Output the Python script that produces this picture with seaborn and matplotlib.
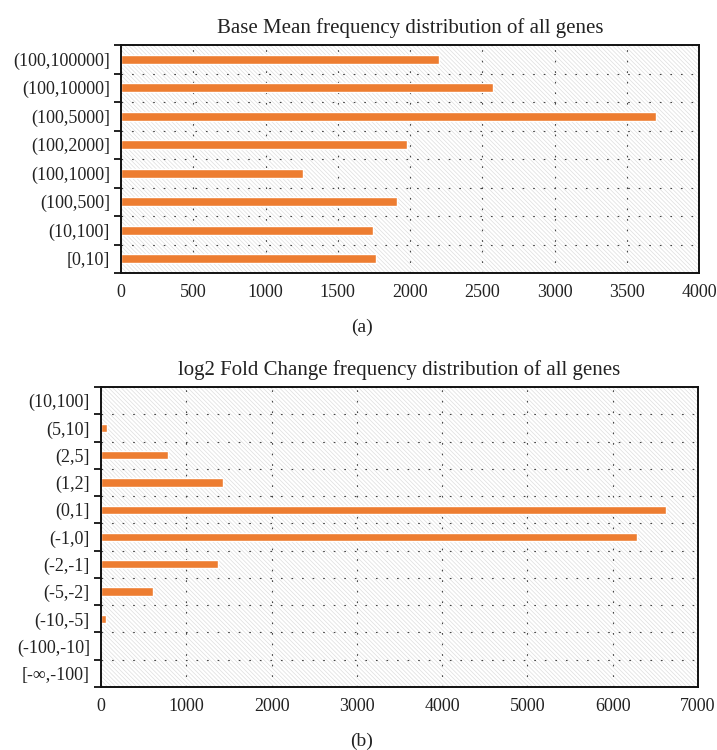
import matplotlib
matplotlib.use("Agg")
import matplotlib.pyplot as plt
from matplotlib.patches import Rectangle
from matplotlib.ticker import FixedLocator
import seaborn as sns
import pandas as pd

# ---- data ----
base_cats = ["(100,100000]", "(100,10000]", "(100,5000]", "(100,2000]",
             "(100,1000]", "(100,500]", "(10,100]", "[0,10]"]
base_vals = [2200, 2575, 3700, 1980, 1260, 1910, 1745, 1765]
base_title = "Base Mean frequency distribution of all genes"
base_xticks = [0, 500, 1000, 1500, 2000, 2500, 3000, 3500, 4000]

fc_cats = ["(10,100]", "(5,10]", "(2,5]", "(1,2]", "(0,1]", "(-1,0]",
           "(-2,-1]", "(-5,-2]", "(-10,-5]", "(-100,-10]", "[-∞,-100]"]
fc_vals = [0, 70, 780, 1425, 6620, 6290, 1370, 605, 55, 0, 0]
fc_title = "log2 Fold Change frequency distribution of all genes"
fc_xticks = [0, 1000, 2000, 3000, 4000, 5000, 6000, 7000]

captions = ["(a)", "(b)"]

sns.set_theme(style="white")
plt.rcParams["font.family"] = ["Liberation Serif", "DejaVu Serif"]
plt.rcParams["hatch.linewidth"] = 0.5

BAR = "#ED7D31"
TXT = "#222222"

fig = plt.figure(figsize=(7.17, 7.5), dpi=100)
ax1 = fig.add_axes([121 / 717, 1 - 273 / 750, 578 / 717, 228 / 750])
ax2 = fig.add_axes([101 / 717, 1 - 687 / 750, 597 / 717, 300 / 750])


def draw(ax, cats, vals, title, xticks):
    df = pd.DataFrame({"cat": cats, "val": vals})
    ax.add_patch(Rectangle((0, 0), 1, 1, transform=ax.transAxes,
                           facecolor="white", edgecolor="#dedede",
                           hatch="\\\\\\\\\\\\\\\\", linewidth=0, zorder=0))
    sns.barplot(data=df, x="val", y="cat", order=cats, orient="h",
                color=BAR, saturation=1, width=0.3, ax=ax, zorder=2)
    n = len(cats)
    ax.set_ylim(n - 0.5, -0.5)
    ax.set_xlim(xticks[0], xticks[-1])
    ax.set_xticks(xticks)
    ax.set_xticklabels([str(t) for t in xticks], fontsize=13, color=TXT)
    ax.set_yticks(range(n))
    ax.set_yticklabels(cats, fontsize=13, color=TXT)
    ax.yaxis.set_minor_locator(FixedLocator([i - 0.5 for i in range(n + 1)]))
    ax.tick_params(axis="y", which="major", length=0, pad=8)
    ax.tick_params(axis="y", which="minor", length=5, width=1.3,
                   direction="out", color="#111111", left=True)
    ax.tick_params(axis="x", which="both", length=0, pad=8)
    ax.set_xlabel("")
    ax.set_ylabel("")
    ax.set_axisbelow(True)
    ax.grid(True, which="minor", axis="y", color="#444444",
            linestyle=(0, (1.5, 8)), linewidth=0.8, zorder=1)
    ax.grid(True, which="major", axis="x", color="#444444",
            linestyle=(0, (1.5, 8)), linewidth=0.8, zorder=1)
    ax.grid(False, which="major", axis="y")
    for s in ax.spines.values():
        s.set_visible(True)
        s.set_color("#111111")
        s.set_linewidth(1.4)
    ax.set_title(title, fontsize=15, color=TXT, pad=9)


draw(ax1, base_cats, base_vals, base_title, base_xticks)
draw(ax2, fc_cats, fc_vals, fc_title, fc_xticks)

fig.text(362 / 717, 1 - 327 / 750, captions[0], ha="center", va="center",
         fontsize=14, color=TXT)
fig.text(362 / 717, 1 - 741 / 750, captions[1], ha="center", va="center",
         fontsize=14, color=TXT)

fig.savefig("out.png", dpi=100, facecolor="white")
